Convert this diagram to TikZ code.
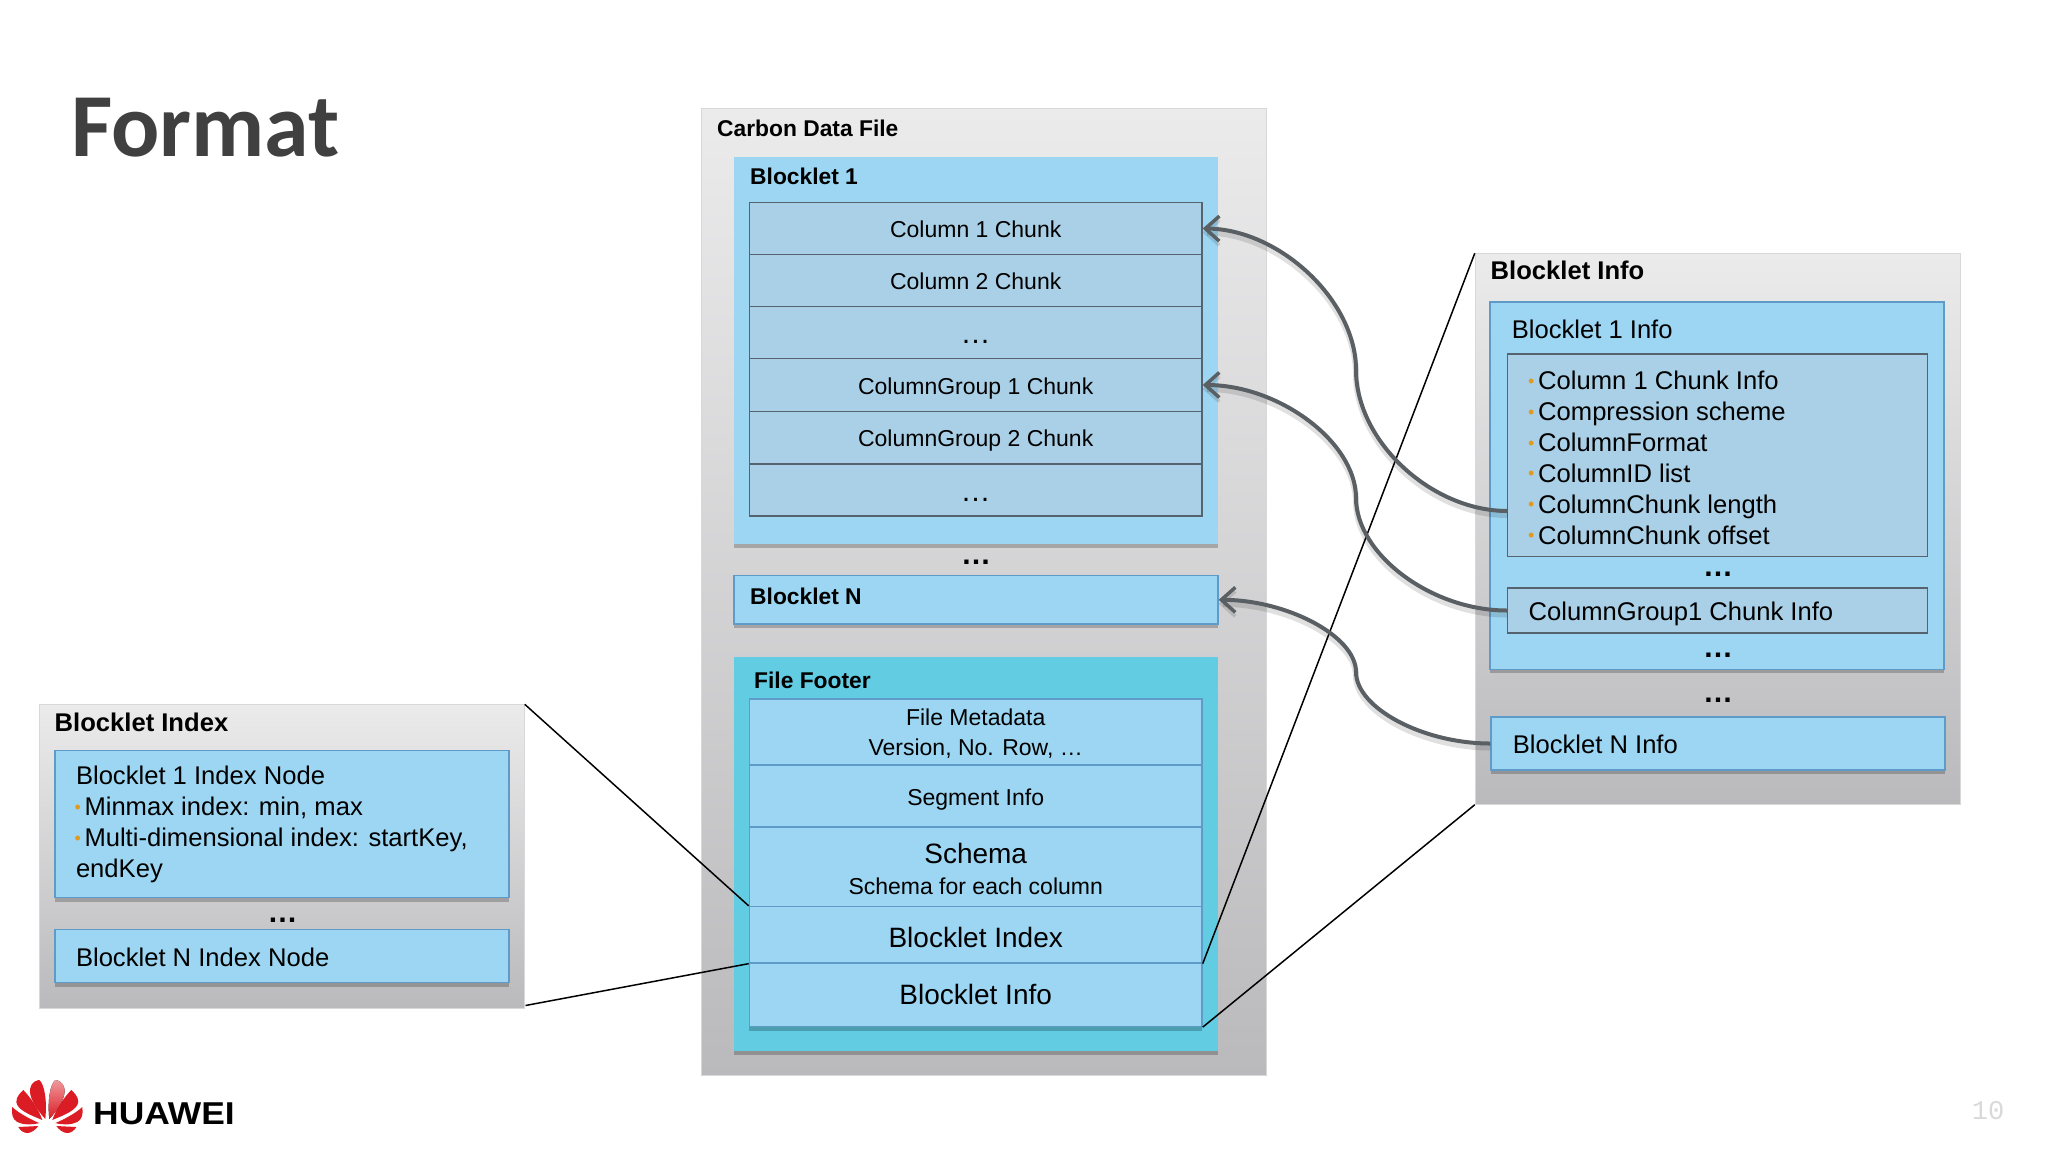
\documentclass[tikz,border=0pt]{standalone}
\usepackage{fontspec}
\usepackage{graphicx}
\setmainfont{Liberation Sans}
\newfontfamily\slidefont{Carlito}
\newfontfamily\pagefont{Liberation Mono}
\usetikzlibrary{arrows.meta,shadows,positioning}
\definecolor{skyfill}{HTML}{9CD6F2}
\definecolor{skyedge}{HTML}{5F9BC9}
\definecolor{rowfill}{HTML}{A9D0E6}
\definecolor{rowedge}{HTML}{55636F}
\definecolor{footerfill}{HTML}{62CCE3}
\definecolor{greytop}{HTML}{EBEBEC}
\definecolor{greybottom}{HTML}{BABABC}
\definecolor{bulletorange}{HTML}{E09A20}
\definecolor{linkgrey}{HTML}{5A5F63}
\definecolor{titlegrey}{HTML}{404040}
\definecolor{logored}{HTML}{DC1C24}
\newcommand{\infobullet}{\makebox[8.5pt][l]{\hspace{-1.5pt}\textcolor{bulletorange}{\fontsize{18}{18}\selectfont\raisebox{2.5pt}{•}}}}
\newcommand{\rowdots}{\raisebox{-2pt}{\fontsize{30}{30}\selectfont …}}
\tikzset{
  boxshadow/.style={drop shadow={shadow xshift=0pt,shadow yshift=-4pt,fill=black,opacity=.22}},
  greybox/.style={inner sep=0pt,draw=greytop!92!black,line width=.5pt,top color=greytop,bottom color=greybottom},
  skybox/.style={inner sep=0pt,fill=skyfill,boxshadow},
  edgedbox/.style={skybox,draw=skyedge,line width=1.4pt},
  footerbox/.style={inner sep=0pt,fill=footerfill,boxshadow},
  chunkrow/.style={inner sep=0pt,fill=rowfill,draw=rowedge,line width=1.3pt,minimum width=452.7pt,
    font=\fontsize{23}{30.5}\selectfont,text height=18pt,text depth=0pt},
  footerrow/.style={inner sep=0pt,fill=skyfill,draw=skyedge,line width=1.3pt,minimum width=452.7pt,align=center,
    font=\fontsize{23}{30.5}\selectfont},
  rowtext/.style={inner sep=0pt,align=center,font=\fontsize{23}{30.5}\selectfont},
  headbig/.style={anchor=west,inner sep=0pt,font=\fontsize{25.6}{30.8}\selectfont\bfseries,text height=18pt,text depth=0pt},
  headsmall/.style={anchor=west,inner sep=0pt,font=\fontsize{22.8}{27}\selectfont\bfseries,text height=16pt,text depth=0pt},
  plainlabel/.style={anchor=west,inner sep=0pt,font=\fontsize{25.6}{30.8}\selectfont,text height=18pt,text depth=0pt},
  listtext/.style={anchor=north west,inner sep=0pt,align=left,font=\fontsize{25.6}{30.9}\selectfont},
  gapdots/.style={anchor=base,inner sep=0pt,font=\fontsize{30}{30}\selectfont\bfseries},
  linkarrow/.style={draw=linkgrey,line width=4pt,-{Straight Barb[length=14pt,width=25pt,line width=3.5pt]},
    preaction={draw=black,opacity=.12,line width=6pt,transform canvas={yshift=-4pt}}},
  zoomline/.style={draw=black,line width=1.5pt},
  petal/.style={fill=logored,draw=none}
}
\begin{document}
\begin{tikzpicture}[x=1pt,y=-1pt]
\useasboundingbox (0,0) rectangle (2048,1152);
\node[anchor=base west,inner sep=0pt,text=titlegrey,font=\fontsize{90}{90}\slidefont\bfseries] (slidetitle) at (71,156) {Format};

\node[greybox,minimum width=565pt,minimum height=966.4pt] (carbonfile) at (983.5,591.8) {};
\node[headsmall] (carbontitle) at (717,128) {Carbon Data File};
\node[skybox,minimum width=484pt,minimum height=387.2pt] (blocklet1) at (976,350.4) {};
\node[headsmall] (blocklet1title) at (750,176.4) {Blocklet 1};
\node[chunkrow,minimum height=52pt] (row1) at (975.7,228.5) {Column 1 Chunk};
\node[chunkrow,minimum height=52pt] (row2) at (975.7,280.5) {Column 2 Chunk};
\node[chunkrow,minimum height=52.6pt] (row3) at (975.7,332.7) {\rowdots};
\node[chunkrow,minimum height=52.4pt] (row4) at (975.7,385) {ColumnGroup 1 Chunk};
\node[chunkrow,minimum height=52.6pt] (row5) at (975.7,437.7) {ColumnGroup 2 Chunk};
\node[chunkrow,minimum height=52pt] (row6) at (975.7,490) {\rowdots};
\node[gapdots] (blockletgap) at (976,564) {…};
\node[edgedbox,minimum width=484pt,minimum height=48.3pt] (blockletN) at (976,599.8) {};
\node[headsmall] (blockletNtitle) at (750,596) {Blocklet N};
\node[footerbox,minimum width=484pt,minimum height=393.6pt] (filefooter) at (976,853.8) {};
\node[headsmall] (footertitle) at (754,680.7) {File Footer};
\node[footerrow,minimum height=66pt] (metarow) at (975.7,732) {};
\node[rowtext] (metatext) at (975.7,733.5) {File Metadata\\Version, No. Row, …};
\node[footerrow,minimum height=62pt,text height=18pt,text depth=0pt] (segmentrow) at (975.7,796) {Segment Info};
\node[footerrow,minimum height=79.5pt] (schemarow) at (975.7,866.75) {};
\node[rowtext] (schematext) at (975.7,869) {{\fontsize{28}{30}\selectfont Schema}\\Schema for each column};
\node[footerrow,minimum height=56.5pt,font=\fontsize{28}{31}\selectfont,text height=26pt,text depth=0pt] (indexrow) at (975.7,934.75) {Blocklet Index};
\node[footerrow,boxshadow,minimum height=63.5pt,font=\fontsize{28}{31}\selectfont] (inforow) at (975.7,994.75) {Blocklet Info};

\node[greybox,minimum width=485.5pt,minimum height=303.4pt] (indexfile) at (281.8,856.3) {};
\node[headbig] (indextitle) at (54.5,722) {Blocklet Index};
\node[edgedbox,minimum width=454pt,minimum height=147pt] (index1) at (282,824) {};
\node[listtext] (index1text) at (75.8,766) {Blocklet 1 Index Node\\\infobullet Minmax index: min, max\\\infobullet Multi-dimensional index: startKey,\\endKey};
\node[gapdots] (indexgap) at (282.7,922) {…};
\node[edgedbox,minimum width=454pt,minimum height=53pt] (indexN) at (282,956) {};
\node[plainlabel] (indexNtext) at (75.8,957) {Blocklet N Index Node};

\node[greybox,minimum width=485.6pt,minimum height=551pt] (infofile) at (1717.8,529) {};
\node[headbig] (infotitle) at (1490.5,270) {Blocklet Info};
\node[edgedbox,minimum width=454pt,minimum height=367.4pt] (info1) at (1717,485.7) {};
\node[plainlabel] (info1title) at (1511.6,329) {Blocklet 1 Info};
\node[inner sep=0pt,fill=rowfill,draw=rowedge,line width=1.3pt,minimum width=420pt,minimum height=202.5pt] (chunkinfo) at (1717.5,455.3) {};
\node[listtext] (chunkinfotext) at (1529.5,371) {\infobullet Column 1 Chunk Info\\\infobullet Compression scheme\\\infobullet ColumnFormat\\\infobullet ColumnID list\\\infobullet ColumnChunk length\\\infobullet ColumnChunk offset};
\node[gapdots] (chunkgap) at (1718,576) {…};
\node[inner sep=0pt,fill=rowfill,draw=rowedge,line width=1.3pt,minimum width=420pt,minimum height=45pt] (groupinfo) at (1717.5,610.5) {};
\node[plainlabel] (groupinfotext) at (1528.5,611) {ColumnGroup1 Chunk Info};
\node[gapdots] (groupgap) at (1718,657) {…};
\node[gapdots] (infogap) at (1718,702) {…};
\node[edgedbox,minimum width=454pt,minimum height=53pt] (infoN) at (1718,743.5) {};
\node[plainlabel] (infoNtext) at (1512.6,744) {Blocklet N Info};

\coordinate (indexfoot) at (525.5,1005.5);
\coordinate (chunkout) at (1507.5,511);
\coordinate (chunkmid) at (1356,370);
\coordinate (groupmid) at (1356,498);
\coordinate (blockletmid) at (1356,672);
\draw[zoomline] (indexfile.north east) -- (indexrow.north west);
\draw[zoomline] (indexfoot) -- (indexrow.south west);
\draw[zoomline] (indexrow.south east) -- (infofile.north west);
\draw[zoomline] (inforow.south east) -- (infofile.south west);
\draw[linkarrow] (chunkout) .. controls (1431,511) and (1356,441) .. (chunkmid) .. controls (1356,300) and (1279,229) .. (row1.east);
\draw[linkarrow] (groupinfo.west) .. controls (1431,610.5) and (1356,554) .. (groupmid) .. controls (1356,442) and (1279,385) .. (row4.east);
\draw[linkarrow] (infoN.west) .. controls (1423,743.5) and (1356,708) .. (blockletmid) .. controls (1356,636) and (1287,600) .. (blockletN.east);

\begin{scope}[shift={(47.3,1120)}]
\foreach \side in {1,-1}{
\begin{scope}[xscale=\side]
\fill[petal] (-9,6) -- (-29,7) .. controls (-27,11) and (-23,13) .. (-20,13) .. controls (-16,13) and (-12,10) .. (-9,6) -- cycle;
\fill[petal] (-8,3) .. controls (-18,-1) and (-30,-8) .. (-35,-13) .. controls (-36,-6) and (-35,-1) .. (-30,2) .. controls (-24,5) and (-15,5) .. (-8,3) -- cycle;
\fill[petal] (-5,0) .. controls (-17,-5) and (-30,-10) .. (-31,-18) .. controls (-31,-24) and (-26,-28) .. (-24,-30) .. controls (-18,-24) and (-9,-12) .. (-5,0) -- cycle;
\end{scope}
}
\fill[petal] (-2,-1) .. controls (-12,-12) and (-19,-24) .. (-17,-32) .. controls (-16,-38) and (-10,-40) .. (-8,-40) .. controls (-3,-36) and (0,-20) .. (-2,-1) -- cycle;
\begin{scope}[xscale=-1]
\fill[top color=logored!45!white,bottom color=logored] (-2,-1) .. controls (-12,-12) and (-19,-24) .. (-17,-32) .. controls (-16,-38) and (-10,-40) .. (-8,-40) .. controls (-3,-36) and (0,-20) .. (-2,-1) -- cycle;
\end{scope}
\end{scope}
\node[anchor=base west,inner sep=0pt,font=\fontsize{31.6}{32}\selectfont\bfseries] (logotext) at (93,1124) {\scalebox{1.12}[1]{HUAWEI}};
\node[inner sep=0pt,text=black!15,font=\fontsize{27}{27}\pagefont] (pagenumber) at (1988,1111) {10};
\end{tikzpicture}
\end{document}
